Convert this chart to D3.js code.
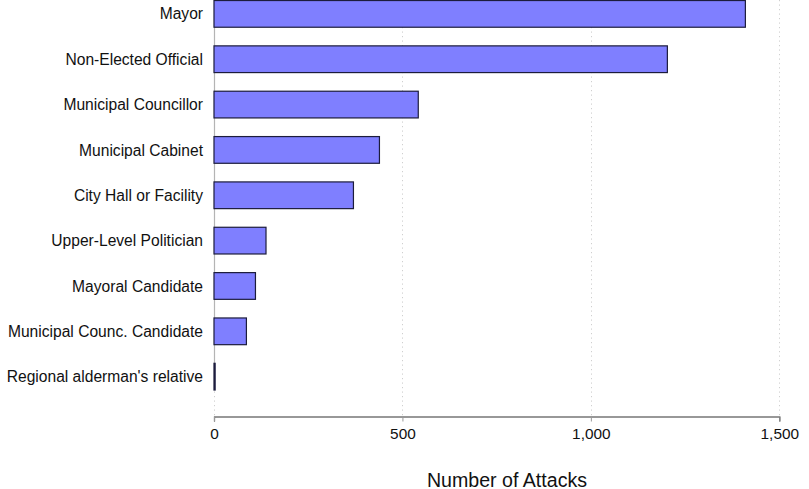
<!DOCTYPE html>
<html>
<head>
<meta charset="utf-8">
<script src="https://cdn.jsdelivr.net/npm/d3@7"></script>
<style>
  html, body { margin: 0; padding: 0; background: #fff; }
  svg { display: block; font-family: "Liberation Sans", Arial, Helvetica, sans-serif; }
</style>
</head>
<body>
<svg id="chart" width="809" height="489"></svg>
<script>
const categories = [
  "Mayor",
  "Non-Elected Official",
  "Municipal Councillor",
  "Municipal Cabinet",
  "City Hall or Facility",
  "Upper-Level Politician",
  "Mayoral Candidate",
  "Municipal Counc. Candidate",
  "Regional alderman's relative"
];
const attacks = [1410, 1203, 542, 439, 370, 138, 110, 86, 3];
const xTicks = [0, 500, 1000, 1500];
const xTitle = "Number of Attacks";

const svg = d3.select("#chart");

const x = d3.scaleLinear().domain([0, 1500]).range([214, 779.3]);
const y = d3.scaleBand()
  .domain(categories)
  .range([-8.8, -8.8 + 9 * 45.35])
  .paddingInner(0.411)
  .paddingOuter(0.2055);

const axisY = 416.5;

// dotted gridlines
svg.append("g").selectAll("line")
  .data(xTicks)
  .join("line")
  .attr("x1", d => Math.round(x(d)) + 0.5)
  .attr("x2", d => Math.round(x(d)) + 0.5)
  .attr("y1", 0)
  .attr("y2", axisY)
  .attr("stroke", "#cfcfcf")
  .attr("stroke-width", 1)
  .attr("stroke-dasharray", "1.2,3.3");

// left axis line (solid grey over bar range)
const lastCat = categories[categories.length - 1];
svg.append("line")
  .attr("x1", x(0) + 0.5).attr("x2", x(0) + 0.5)
  .attr("y1", 0)
  .attr("y2", y(lastCat) + y.bandwidth())
  .attr("stroke", "#b4b4b4")
  .attr("stroke-width", 1.2);

// bars
svg.append("g").selectAll("rect")
  .data(categories)
  .join("rect")
  .attr("x", x(0))
  .attr("y", d => y(d))
  .attr("width", (d, i) => Math.max(0.8, x(attacks[i]) - x(0)))
  .attr("height", y.bandwidth())
  .attr("fill", "#7f7fff")
  .attr("stroke", "#1c1c3c")
  .attr("stroke-width", 1.2);

// category labels
svg.append("g").selectAll("text")
  .data(categories)
  .join("text")
  .attr("x", 203)
  .attr("y", d => y(d) + y.bandwidth() / 2 + 5.6)
  .attr("text-anchor", "end")
  .attr("font-size", "15.6px")
  .attr("fill", "#111")
  .text(d => d);

// bottom axis
const xAxis = d3.axisBottom(x)
  .tickValues(xTicks)
  .tickSize(5)
  .tickPadding(7)
  .tickFormat(d3.format(","));
const gx = svg.append("g")
  .attr("transform", `translate(0,${axisY})`)
  .call(xAxis);
gx.select(".domain").attr("stroke", "#333").attr("stroke-width", 1.2);
gx.selectAll(".tick line").attr("stroke", "#999");
gx.selectAll(".tick text")
  .attr("font-size", "15.4px")
  .attr("font-family", "Liberation Sans, Arial, Helvetica, sans-serif")
  .attr("fill", "#111");

// axis title
svg.append("text")
  .attr("x", 507)
  .attr("y", 486.5)
  .attr("text-anchor", "middle")
  .attr("font-size", "19.6px")
  .attr("fill", "#111")
  .text(xTitle);
</script>
</body>
</html>
